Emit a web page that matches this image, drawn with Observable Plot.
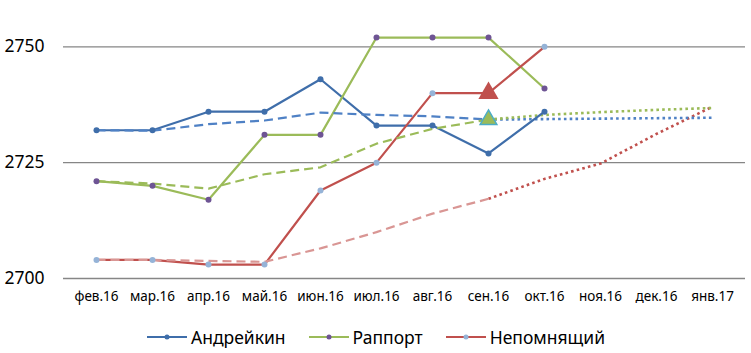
<!DOCTYPE html>
<html>
<head>
<meta charset="utf-8">
<script src="https://cdn.jsdelivr.net/npm/d3@7"></script>
<script src="https://cdn.jsdelivr.net/npm/@observablehq/plot@0.6"></script>
<style>
  html, body { margin: 0; padding: 0; background: #fff; }
  #chart { width: 751px; height: 353px; position: relative; overflow: hidden; }
  #legend { position: absolute; top: 325px; left: 0; width: 751px; display: flex; justify-content: center; gap: 22px;
            font-family: "Noto Sans", sans-serif; font-size: 17.5px; color: #000; line-height: 24px; }
  #legend .item { display: flex; align-items: center; gap: 3px; }
</style>
</head>
<body>
<div id="chart"></div>
<script>
const months = ["фев.16","мар.16","апр.16","май.16","июн.16","июл.16","авг.16","сен.16","окт.16","ноя.16","дек.16","янв.17"];
const seriesNames = ["Андрейкин", "Раппорт", "Непомнящий"];

// actual ratings (feb.16 – oct.16)
const andreikin = [2732, 2732, 2736, 2736, 2743, 2733, 2733, 2727, 2736, null, null, null];
const rapport   = [2721, 2720, 2717, 2731, 2731, 2752, 2752, 2752, 2741, null, null, null];
const nepo      = [2704, 2704, 2703, 2703, 2719, 2725, 2740, 2740, 2750, null, null, null];

// trend (dashed, feb.16 – sep.16)
const trendAndreikin = [2732, 2731.9, 2733.3, 2734.1, 2735.8, 2735.3, 2735, 2734.3, null, null, null, null];
const trendRapport   = [2721, 2720.5, 2719.4, 2722.5, 2724, 2729.1, 2732.3, 2734.3, null, null, null, null];
const trendNepo      = [2704, 2704, 2703.8, 2703.6, 2706.5, 2710, 2714, 2717.2, null, null, null, null];

// forecast (dotted, sep.16 – jan.17)
const fcAndreikin = [null, null, null, null, null, null, null, 2734.3, 2734.4, 2734.5, 2734.6, 2734.7];
const fcRapport   = [null, null, null, null, null, null, null, 2734.3, 2735.3, 2735.9, 2736.4, 2736.8];
const fcNepo      = [null, null, null, null, null, null, null, 2717.2, 2721.5, 2724.8, 2731.2, 2737.1];

// highlighted points (sep.16)
const markMonth = "сен.16";
const markNepo = 2740;
const markRapport = 2734.3;

const yTicks = [2700, 2725, 2750];

const toRows = (arr) => months.map((m, i) => ({month: m, value: arr[i]})).filter(d => d.value != null);

const C = {
  blue: "#3F6EAA", blueTrend: "#4F81C5",
  green: "#9BBB59", greenTrend: "#9BBB59",
  red: "#C0504D", redTrend: "#D99694",
  purple: "#6E5494", lightBlue: "#95B3D7", teal: "#4BACC6"
};

const lineOpts = (stroke, w, dash) => ({x: "month", y: "value", stroke, strokeWidth: w, strokeDasharray: dash,
  strokeLinecap: dash ? "butt" : "round", curve: "linear"});

const chart = Plot.plot({
  width: 751,
  height: 310,
  marginTop: 0,
  marginBottom: 32,
  marginLeft: 63,
  marginRight: 6,
  style: {fontFamily: "Noto Sans, sans-serif", background: "transparent"},
  x: {type: "point", domain: months, padding: 0.5},
  y: {domain: [2700, 2760]},
  marks: [
    Plot.gridY(yTicks, {stroke: "#868686", strokeOpacity: 1, strokeWidth: 1.3}),
    Plot.axisY(yTicks, {tickSize: 0, tickPadding: 19, fontSize: 17.5, label: null, tickFormat: d => String(d)}),
    Plot.axisX({tickSize: 0, tickPadding: 13, fontSize: 13.5, label: null}),
    // forecasts (dotted)
    Plot.line(toRows(fcNepo), lineOpts(C.red, 2.6, "2.6,3.2")),
    Plot.line(toRows(fcAndreikin), lineOpts(C.blueTrend, 2.6, "2.6,3.2")),
    Plot.line(toRows(fcRapport), lineOpts(C.green, 2.6, "2.6,3.2")),
    // actual lines
    Plot.line(toRows(andreikin), lineOpts(C.blue, 2.2)),
    Plot.line(toRows(rapport), lineOpts(C.green, 2.2)),
    Plot.line(toRows(nepo), lineOpts(C.red, 2.2)),
    // trends (dashed)
    Plot.line(toRows(trendAndreikin), lineOpts(C.blueTrend, 2.2, "9,5")),
    Plot.line(toRows(trendRapport), lineOpts(C.greenTrend, 2.2, "9,5")),
    Plot.line(toRows(trendNepo), lineOpts(C.redTrend, 2.2, "9,5")),
    // markers
    Plot.dot(toRows(andreikin), {x: "month", y: "value", r: 3, fill: C.blue, stroke: "none"}),
    Plot.dot(toRows(rapport), {x: "month", y: "value", r: 3, fill: C.purple, stroke: "none"}),
    Plot.dot(toRows(nepo).filter(d => d.month !== markMonth), {x: "month", y: "value", r: 3, fill: C.lightBlue, stroke: "none"}),
    Plot.dot([{month: markMonth, value: markNepo}], {x: "month", y: "value", symbol: "triangle", r: 7.5, fill: C.red, stroke: "none"}),
    Plot.dot([{month: markMonth, value: markRapport}], {x: "month", y: "value", symbol: "triangle", r: 6.2, fill: C.green, stroke: C.teal, strokeWidth: 1.5})
  ]
});
document.getElementById("chart").appendChild(chart);

// legend
const legend = document.createElement("div");
legend.id = "legend";
const legendColors = [[C.blue, C.blue], [C.green, C.purple], [C.red, C.lightBlue]];
seriesNames.forEach((name, i) => {
  const item = document.createElement("div");
  item.className = "item";
  item.innerHTML = `<svg width="42" height="10"><line x1="1" x2="41" y1="5" y2="5" stroke="${legendColors[i][0]}" stroke-width="2.2"/><circle cx="21" cy="5" r="2.5" fill="${legendColors[i][1]}"/></svg><span>${name}</span>`;
  legend.appendChild(item);
});
document.getElementById("chart").appendChild(legend);
</script>
</body>
</html>
